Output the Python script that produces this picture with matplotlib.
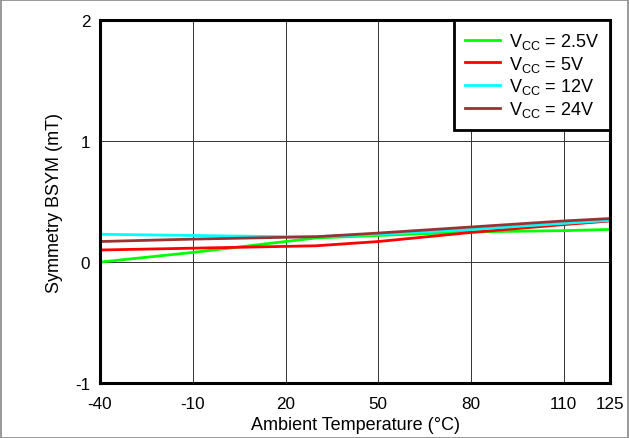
import matplotlib
matplotlib.use('Agg')
import matplotlib.pyplot as plt
from matplotlib.patches import Rectangle

plt.rcParams['font.family'] = ['Liberation Sans', 'DejaVu Sans']
plt.rcParams['mathtext.default'] = 'regular'
plt.rcParams['axes.unicode_minus'] = False

temp = [-40, -10, 20, 30, 50, 80, 110, 125]
vcc_2v5 = [0.00, 0.08, 0.17, 0.20, 0.22, 0.25, 0.26, 0.27]
vcc_5v = [0.10, 0.115, 0.13, 0.135, 0.17, 0.245, 0.31, 0.34]
vcc_12v = [0.23, 0.22, 0.21, 0.21, 0.23, 0.27, 0.32, 0.345]
vcc_24v = [0.17, 0.19, 0.205, 0.21, 0.24, 0.29, 0.34, 0.36]

labels = ['V$_{CC}$ = 2.5V', 'V$_{CC}$ = 5V', 'V$_{CC}$ = 12V', 'V$_{CC}$ = 24V']
colors = ['#00ff00', '#ff0000', '#00ffff', '#993333']
xticks = [-40, -10, 20, 50, 80, 110, 125]
yticks = [-1, 0, 1, 2]

fig = plt.figure(figsize=(6.29, 4.39), dpi=100)
ax = fig.add_axes([0.159, 0.125, 0.811, 0.827])

for y, lab, c in zip([vcc_2v5, vcc_5v, vcc_12v, vcc_24v], labels, colors):
    ax.plot(temp, y, color=c, lw=2, label=lab)

ax.set_xlim(-40, 125)
ax.set_ylim(-1, 2)
ax.set_xticks(xticks)
ax.set_yticks(yticks)
ax.tick_params(length=0, labelsize=12.3, pad=7)
ax.tick_params(axis='x', pad=9)
ax.grid(True, color='#333333', lw=0.7)
ax.set_axisbelow(True)
for s in ax.spines.values():
    s.set_linewidth(2.2)
    s.set_color('black')

ax.set_xlabel('Ambient Temperature (°C)', fontsize=13, labelpad=4)
ax.set_ylabel('Symmetry BSYM (mT)', fontsize=13, labelpad=9)

leg = ax.legend(loc='upper right', borderaxespad=0, fontsize=13, fancybox=False,
                framealpha=1, edgecolor='black', handlelength=1.95, labelspacing=0.15,
                borderpad=0.6, handletextpad=0.5)
leg.get_frame().set_linewidth(2)

fig.patches.append(Rectangle((0.001, 0.001), 0.997, 0.997, transform=fig.transFigure,
                             fill=False, edgecolor='#888888', lw=1.2))

fig.savefig('out.png', dpi=100)
